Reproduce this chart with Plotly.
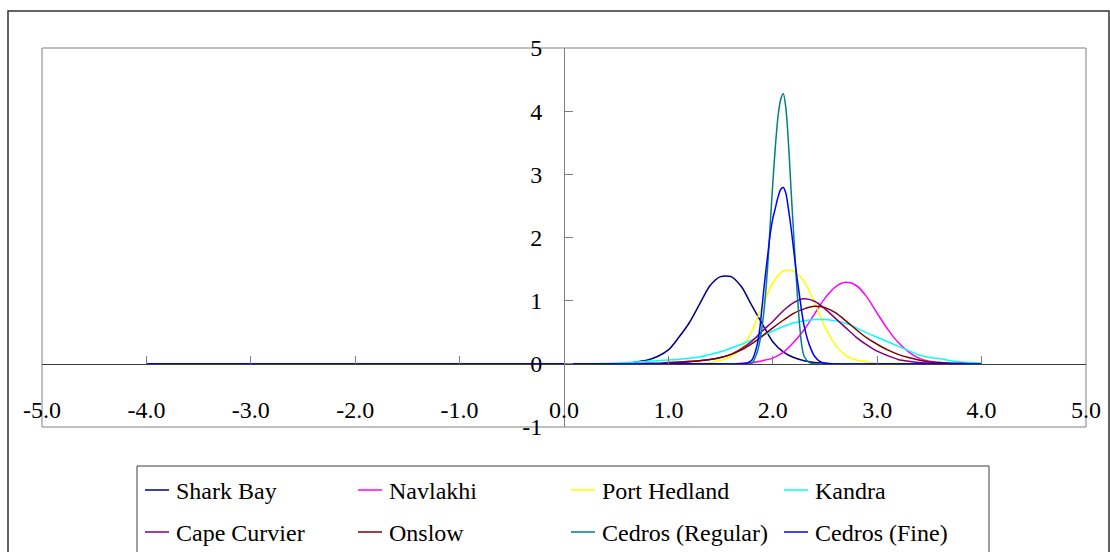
import plotly.graph_objects as go

# ---- data -------------------------------------------------------------
# common abscissa for the broad distributions
x_broad = [-4.0, -3.0, -2.0, -1.0, 0.0,
           0.5, 0.6, 0.7, 0.8, 0.9, 1.0, 1.1, 1.2, 1.3, 1.4,
           1.5, 1.6, 1.7, 1.8, 1.9, 2.0, 2.1, 2.2, 2.3, 2.4,
           2.5, 2.6, 2.7, 2.8, 2.9, 3.0, 3.1, 3.2, 3.3, 3.4,
           3.5, 3.6, 3.7, 3.8, 3.9, 4.0]

shark_bay = [0, 0, 0, 0, 0,
             0.00, 0.01, 0.03, 0.06, 0.12, 0.22, 0.42, 0.65, 0.95, 1.24,
             1.38, 1.38, 1.22, 0.92, 0.63, 0.35, 0.19, 0.10, 0.05, 0.02,
             0.01, 0, 0, 0, 0, 0, 0, 0, 0, 0,
             0, 0, 0, 0, 0, 0]

navlakhi = [0, 0, 0, 0, 0,
            0, 0, 0, 0, 0, 0, 0, 0, 0, 0,
            0, 0, 0.01, 0.02, 0.05, 0.09, 0.18, 0.34, 0.54, 0.79,
            1.04, 1.22, 1.29, 1.24, 1.06, 0.80, 0.55, 0.34, 0.19, 0.09,
            0.04, 0.02, 0.01, 0, 0, 0]

port_hedland = [0, 0, 0, 0, 0,
                0, 0, 0, 0, 0, 0, 0, 0, 0, 0.02,
                0.05, 0.12, 0.25, 0.52, 0.92, 1.28, 1.47, 1.47, 1.30, 0.97,
                0.58, 0.30, 0.13, 0.06, 0.03, 0.01, 0, 0, 0, 0,
                0, 0, 0, 0, 0, 0]

kandra = [0, 0, 0, 0, 0,
          0.01, 0.02, 0.03, 0.04, 0.05, 0.06, 0.07, 0.09, 0.11, 0.15,
          0.19, 0.25, 0.31, 0.38, 0.45, 0.52, 0.59, 0.65, 0.68, 0.70,
          0.70, 0.68, 0.64, 0.57, 0.49, 0.42, 0.35, 0.28, 0.21, 0.14,
          0.10, 0.08, 0.05, 0.03, 0.02, 0.01]

cape_curvier = [0, 0, 0, 0, 0,
                0, 0, 0, 0, 0, 0.01, 0.02, 0.03, 0.05, 0.07,
                0.10, 0.15, 0.24, 0.36, 0.52, 0.67, 0.84, 0.97, 1.03, 0.99,
                0.87, 0.72, 0.57, 0.42, 0.30, 0.20, 0.13, 0.07, 0.04, 0.02,
                0.01, 0, 0, 0, 0, 0]

onslow = [0, 0, 0, 0, 0,
          0, 0, 0, 0.01, 0.01, 0.02, 0.03, 0.04, 0.05, 0.07,
          0.10, 0.15, 0.22, 0.32, 0.44, 0.57, 0.69, 0.80, 0.87, 0.91,
          0.89, 0.81, 0.68, 0.54, 0.41, 0.31, 0.22, 0.15, 0.10, 0.06,
          0.03, 0.02, 0.01, 0.01, 0, 0]

# finer abscissa for the two narrow Cedros distributions
x_cedros_regular = [-4.0, -2.0, 0.0, 1.0, 1.5, 1.7, 1.75, 1.8, 1.85, 1.875,
                    1.9, 1.925, 1.95, 1.975, 2.0, 2.025, 2.05, 2.075, 2.1, 2.125,
                    2.15, 2.175, 2.2, 2.225, 2.25, 2.275, 2.3, 2.35, 2.4, 2.5,
                    3.0, 3.5, 4.0]
cedros_regular = [0, 0, 0, 0, 0, 0, 0.0, 0.01, 0.18, 0.35,
                  0.62, 1.0, 1.52, 2.2, 2.86, 3.45, 3.92, 4.18, 4.28, 4.05,
                  3.50, 2.75, 2.05, 1.35, 0.75, 0.32, 0.12, 0.02, 0, 0,
                  0, 0, 0]

x_cedros_fine = [-4.0, -2.0, 0.0, 1.0, 1.5, 1.7, 1.75, 1.8, 1.85, 1.875,
                 1.9, 1.925, 1.95, 1.975, 2.0, 2.025, 2.05, 2.075, 2.1, 2.125,
                 2.15, 2.175, 2.2, 2.225, 2.25, 2.275, 2.3, 2.35, 2.4, 2.45,
                 2.5, 2.55, 3.0, 3.5, 4.0]
cedros_fine = [0, 0, 0, 0, 0, 0.0, 0.01, 0.06, 0.30, 0.55,
               0.95, 1.35, 1.70, 2.05, 2.30, 2.47, 2.64, 2.76, 2.79, 2.70,
               2.45, 2.15, 1.80, 1.45, 1.15, 0.85, 0.60, 0.30, 0.12, 0.04,
               0.01, 0, 0, 0, 0]

series_names = ["Shark Bay", "Navlakhi", "Port Hedland", "Kandra",
                "Cape Curvier", "Onslow", "Cedros (Regular)", "Cedros (Fine)"]
series_x = [x_broad, x_broad, x_broad, x_broad, x_broad, x_broad,
            x_cedros_regular, x_cedros_fine]
series_y = [shark_bay, navlakhi, port_hedland, kandra,
            cape_curvier, onslow, cedros_regular, cedros_fine]
series_colors = ["#000080", "#FF00FF", "#FFFF00", "#00FFFF",
                 "#800080", "#800000", "#008080", "#0000FF"]

# axis ticks and their printed labels (plain hyphen minus)
x_tick_values = [-5, -4, -3, -2, -1, 0, 1, 2, 3, 4, 5]
x_tick_labels = ["-5.0", "-4.0", "-3.0", "-2.0", "-1.0", "0.0",
                 "1.0", "2.0", "3.0", "4.0", "5.0"]
y_tick_values = [-1, 0, 1, 2, 3, 4, 5]
y_tick_labels = ["-1", "0", "1", "2", "3", "4", "5"]

# ---- layout geometry (pixels) ------------------------------------------
W, H = 1110, 552
PL, PR, PT, PB = 42, 1086, 48, 427          # plot-area edges
FONT = "Liberation Serif"


def px_x(p):
    return (p - PL) / (PR - PL)


def px_y(p):
    return (PB - p) / (PB - PT)


fig = go.Figure()
for name, xs, ys, col in zip(series_names, series_x, series_y, series_colors):
    fig.add_trace(go.Scatter(
        x=xs, y=ys, name=name, mode="lines",
        line=dict(color=col, width=1.5, shape="spline", smoothing=0.8),
        showlegend=False, hoverinfo="x+y+name"))

shapes = []
# outer chart frame
shapes.append(dict(type="rect", xref="paper", yref="paper",
                   x0=px_x(8), x1=px_x(1109), y0=px_y(570), y1=px_y(11),
                   line=dict(color="#303030", width=1.5), layer="below"))
# plot-area frame
shapes.append(dict(type="rect", xref="paper", yref="paper",
                   x0=0, x1=1, y0=0, y1=1,
                   line=dict(color="#808080", width=1), layer="below"))
# legend frame
shapes.append(dict(type="rect", xref="paper", yref="paper",
                   x0=px_x(137), x1=px_x(989), y0=px_y(558), y1=px_y(466),
                   line=dict(color="#404040", width=1)))

annotations = []
col_x = [145, 358, 571, 784]
row_y = [490, 532]
for i, (name, col) in enumerate(zip(series_names, series_colors)):
    cx = col_x[i % 4]
    ry = row_y[i // 4]
    shapes.append(dict(type="line", xref="paper", yref="paper",
                       x0=px_x(cx), x1=px_x(cx + 24), y0=px_y(ry), y1=px_y(ry),
                       line=dict(color=col, width=1.5)))
    annotations.append(dict(text=name, xref="paper", yref="paper",
                            x=px_x(cx + 29), y=px_y(ry + 1),
                            xanchor="left", yanchor="middle", showarrow=False,
                            font=dict(family=FONT, size=24, color="black")))

fig.update_layout(
    width=W, height=H,
    margin=dict(l=PL, r=W - PR, t=PT, b=H - PB, autoexpand=False),
    paper_bgcolor="white", plot_bgcolor="white",
    font=dict(family=FONT, size=24, color="black"),
    shapes=shapes, annotations=annotations, showlegend=False,
    xaxis=dict(range=[-5, 5], tickmode="array",
               tickvals=x_tick_values, ticktext=x_tick_labels,
               showgrid=False, zeroline=False,
               showline=True, linecolor="#404040", linewidth=1,
               ticks="inside", ticklen=8, tickcolor="#808080",
               anchor="free", position=1 / 6, ticklabelstandoff=24,
               tickfont=dict(family=FONT, size=24, color="black")),
    yaxis=dict(range=[-1, 5], tickmode="array",
               tickvals=y_tick_values, ticktext=y_tick_labels,
               showgrid=False, zeroline=False,
               showline=True, linecolor="#808080", linewidth=1,
               ticks="inside", ticklen=8, tickcolor="#808080",
               anchor="free", position=0.5, ticklabelstandoff=17,
               tickfont=dict(family=FONT, size=24, color="black")),
)

fig.write_html("out.html")
